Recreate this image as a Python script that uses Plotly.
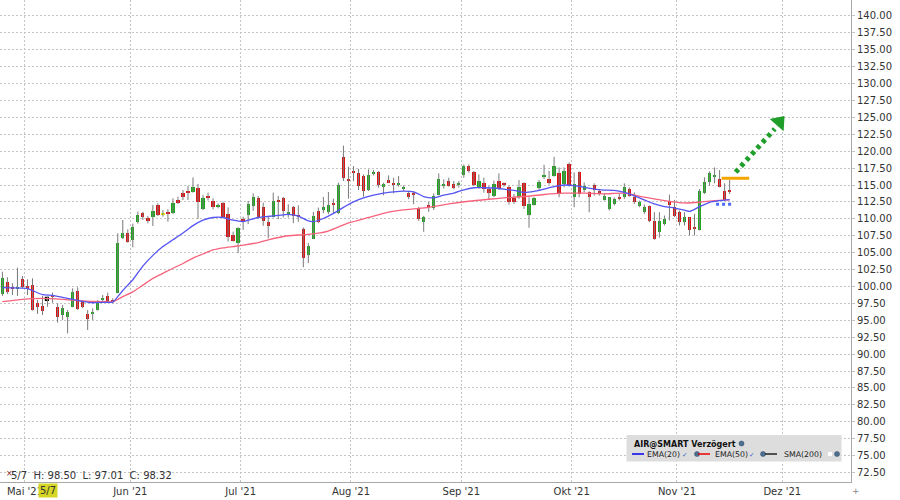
import plotly.graph_objects as go

FONT = "DejaVu Sans"

# ---------------- data (trading-day index 0 = 26 Apr 2021) ----------------
opens = [98.89, 100.72, 99.88, 99.70, 101.06, 100.12, 100.22, 97.60, 97.12, 97.85,
         98.70, 96.92, 95.79, 95.54, 97.02, 99.38, 97.91, 95.93, 95.93, 96.53,
         98.10, 98.64, 98.00, 99.09, 107.12, 107.96, 106.87, 109.58, 110.91, 110.07,
         110.32, 112.04, 110.70, 111.06, 110.81, 112.78, 113.87, 114.16, 114.00, 114.51,
         111.50, 113.37, 112.70, 111.75, 112.29, 110.71, 107.56, 106.48, 109.93, 110.54,
         111.91, 113.14, 111.77, 109.56, 110.29, 112.80, 113.04, 110.83, 111.81, 110.64,
         108.48, 104.66, 107.00, 111.18, 111.27, 111.03, 112.40, 110.93, 119.17, 115.93,
         117.06, 116.72, 116.32, 114.26, 116.57, 116.91, 114.85, 115.69, 115.34, 115.10,
         114.36, 113.87, 113.87, 111.52, 109.56, 111.91, 111.67, 113.48, 114.95, 115.59,
         115.10, 114.95, 116.42, 117.79, 116.91, 114.61, 115.25, 114.40, 113.43, 115.54,
         115.29, 114.66, 113.09, 113.19, 115.25, 110.64, 112.11, 114.56, 116.27, 115.88,
         116.37, 116.72, 115.15, 118.09, 113.28, 116.86, 114.27, 113.92, 115.05, 114.17,
         112.80, 111.47, 112.21, 113.28, 113.19, 114.41, 113.28, 111.96, 110.98, 111.96,
         109.75, 108.04, 109.27, 112.70, 111.81, 110.98, 109.51, 110.25, 108.78, 108.29,
         113.77, 115.39, 116.23, 115.88, 114.17, 114.27]
highs = [102.19, 101.36, 100.47, 102.78, 101.55, 101.06, 101.21, 98.00, 98.60, 98.50,
         99.09, 97.51, 97.27, 96.53, 99.73, 99.88, 98.00, 96.53, 96.77, 98.00,
         98.74, 99.09, 98.25, 107.86, 109.83, 108.45, 109.30, 111.06, 111.06, 110.42,
         112.04, 112.29, 111.30, 111.40, 113.03, 113.28, 114.26, 114.85, 116.13, 115.15,
         113.52, 113.87, 113.03, 112.29, 112.54, 111.70, 108.10, 108.74, 110.32, 112.65,
         113.77, 113.38, 112.40, 110.44, 113.87, 113.38, 113.24, 112.16, 111.91, 112.00,
         108.73, 106.42, 111.03, 111.67, 113.24, 113.97, 112.99, 115.34, 120.83, 117.70,
         117.80, 117.40, 116.57, 117.30, 117.21, 117.06, 115.34, 116.42, 116.08, 116.32,
         114.95, 114.12, 113.97, 111.77, 110.44, 112.50, 113.77, 116.72, 115.83, 116.08,
         115.59, 115.59, 118.04, 118.04, 117.06, 116.57, 116.08, 114.85, 115.64, 116.72,
         115.39, 114.90, 113.68, 115.74, 115.39, 113.19, 113.19, 115.74, 117.99, 117.11,
         119.17, 117.60, 117.60, 118.33, 116.86, 117.01, 115.39, 114.07, 115.25, 114.41,
         113.77, 113.19, 113.19, 113.68, 115.25, 114.66, 113.92, 112.70, 112.11, 111.96,
         110.98, 110.98, 110.49, 113.58, 112.80, 111.23, 110.98, 110.25, 110.74, 114.41,
         116.13, 117.01, 117.60, 117.21, 115.25, 115.74]
lows = [98.60, 98.89, 98.74, 98.60, 99.73, 98.74, 96.43, 95.94, 95.79, 97.01,
        97.61, 94.66, 95.05, 93.08, 96.92, 96.53, 96.77, 93.57, 95.05, 96.43,
        97.76, 97.61, 97.51, 98.99, 107.00, 106.48, 105.79, 109.30, 109.83, 109.33,
        108.94, 110.42, 110.32, 109.58, 110.71, 112.19, 112.78, 112.78, 113.87, 110.00,
        111.30, 112.70, 111.40, 111.55, 110.22, 106.63, 106.63, 104.95, 108.35, 109.22,
        111.18, 109.95, 108.97, 107.11, 110.20, 109.95, 110.20, 110.20, 109.36, 109.56,
        102.84, 103.48, 107.00, 109.36, 110.83, 110.69, 110.83, 110.69, 115.59, 112.99,
        115.59, 114.26, 113.28, 114.12, 116.42, 114.61, 113.48, 115.34, 113.77, 114.75,
        114.12, 112.90, 112.16, 109.71, 108.09, 111.03, 111.32, 113.48, 114.46, 114.75,
        114.36, 114.63, 116.08, 116.81, 114.85, 114.46, 113.87, 112.80, 113.19, 114.27,
        114.76, 112.11, 112.21, 112.94, 111.47, 108.68, 111.96, 114.17, 115.88, 115.05,
        116.23, 113.19, 114.66, 114.76, 111.72, 113.19, 113.92, 110.98, 113.43, 113.43,
        112.70, 111.23, 111.96, 112.70, 112.94, 113.28, 112.21, 111.72, 110.74, 109.51,
        106.91, 107.21, 109.02, 109.76, 110.25, 109.02, 109.02, 107.55, 107.55, 108.29,
        113.68, 114.90, 115.25, 114.66, 112.70, 113.68]
closes = [101.21, 99.24, 99.58, 99.85, 99.88, 99.58, 96.53, 97.02, 96.43, 98.32,
          98.45, 95.54, 96.77, 96.18, 99.24, 96.63, 97.02, 95.15, 96.28, 97.61,
          98.35, 97.66, 97.76, 106.38, 107.96, 106.63, 108.84, 110.57, 110.22, 109.73,
          111.21, 110.57, 110.70, 110.71, 112.29, 112.29, 113.18, 113.92, 114.75, 112.44,
          113.03, 113.03, 111.70, 112.09, 110.32, 107.37, 106.77, 108.60, 109.73, 112.16,
          113.24, 110.20, 109.71, 108.97, 112.65, 112.50, 111.18, 111.03, 110.44, 110.34,
          104.17, 106.03, 110.44, 109.56, 111.81, 112.00, 112.16, 114.95, 116.08, 115.73,
          116.81, 114.85, 114.12, 116.42, 116.91, 114.95, 115.10, 115.44, 115.10, 115.34,
          114.75, 113.24, 113.48, 109.95, 110.20, 111.77, 113.38, 115.83, 115.10, 114.85,
          114.61, 115.34, 117.79, 117.06, 114.95, 115.59, 114.36, 113.85, 115.15, 114.41,
          115.05, 112.45, 112.45, 114.66, 111.96, 112.21, 113.09, 115.39, 116.52, 115.25,
          117.84, 113.77, 117.01, 115.05, 115.15, 113.68, 114.90, 113.19, 114.27, 113.68,
          113.43, 113.19, 112.94, 112.94, 114.76, 113.43, 112.45, 112.45, 111.72, 109.75,
          107.06, 109.75, 110.00, 112.11, 110.49, 109.51, 110.34, 108.29, 108.63, 114.17,
          115.39, 116.72, 116.37, 114.66, 112.80, 113.92]

ema20_x = [0, 5, 6, 8, 10, 12, 14, 16, 18, 20, 22, 23, 24, 26, 28, 30, 32, 34, 36, 38,
           40, 42, 44, 46, 48, 49, 51, 53, 55, 57, 59, 61, 62, 64, 66, 68, 70, 72, 74, 76,
           78, 80, 82, 84, 86, 88, 90, 92, 94, 96, 98, 100, 102, 104, 106, 108, 110, 112, 114, 116,
           118, 120, 122, 124, 126, 128, 130, 132, 134, 136, 137, 139, 141, 143, 145]
ema20_y = [99.83, 99.7, 99.4, 98.8, 98.7, 98.4, 98.1, 97.8, 97.6, 97.66, 97.7, 98.5, 99.4, 101.0, 103.0, 104.6, 105.9, 106.9, 107.9, 109.0,
           109.8, 110.2, 110.2, 109.8, 109.6, 109.8, 110.2, 110.35, 110.5, 110.65, 110.4, 109.7, 109.6, 110.05, 110.8, 111.7, 112.5, 113.1, 113.5, 113.8,
           114.0, 114.1, 114.0, 113.3, 113.1, 113.5, 113.8, 114.3, 114.6, 114.6, 114.56, 114.4, 114.2, 113.9, 114.06, 114.4, 114.75, 115.0, 114.9, 114.66,
           114.4, 114.26, 114.2, 113.9, 113.4, 112.8, 112.2, 111.8, 111.6, 111.3, 111.1, 111.8, 112.45, 112.7, 112.85]
ema50_x = [0, 4, 8, 12, 16, 20, 22, 24, 26, 28, 30, 32, 34, 36, 38, 40, 42, 44, 46, 48,
           51, 53, 57, 61, 65, 69, 73, 77, 81, 85, 89, 93, 97, 100, 104, 108, 112, 116, 120, 124,
           128, 132, 136, 139, 142, 145]
ema50_y = [97.76, 98.1, 98.25, 98.1, 97.86, 97.76, 97.76, 98.5, 99.2, 100.2, 101.2, 101.95, 102.7, 103.4, 104.2, 104.8, 105.4, 105.7, 105.9, 106.1,
           106.5, 106.9, 107.5, 107.7, 108.2, 109.4, 110.2, 111.0, 111.4, 111.7, 112.2, 112.6, 112.9, 113.1, 113.3, 113.6, 113.8, 113.8, 113.7, 113.8,
           113.2, 112.7, 112.35, 112.45, 112.7, 112.8]

month_labels = ["Mai '21", "Jun '21", "Jul '21", "Aug '21", "Sep '21", "Okt '21", "Nov '21", "Dez '21"]
month_start_idx = [5, 26, 48, 70, 92, 114, 135, 156]

crosshair_idx = 9
crosshair_label = "5/7"
crosshair_text = "5/7  H: 98.50  L: 97.01  C: 98.32"

# drawing tools (chart annotations, in data units)
resistance_x = [143.4, 148.9]
resistance_y = [116.0, 116.0]
support_x = [142.3, 145.6]
support_y = [112.15, 112.15]
arrow_x = [146.2, 154.0]
arrow_y = [116.9, 123.3]
arrow_tip = (154.9, 124.3)

# ---------------- figure ----------------
GREEN = "#1ea81e"
RED = "#dd1111"
DOJI = "#e6e600"
n = len(closes)
xs = list(range(n))

wick_x, wick_y = [], []
for i in range(n):
    wick_x += [i, i, None]
    wick_y += [lows[i], highs[i], None]

body_base = [min(o, c) for o, c in zip(opens, closes)]
body_h = [max(abs(c - o), 0.16) for o, c in zip(opens, closes)]
body_col = [GREEN if c > o else (RED if c < o else DOJI) for o, c in zip(opens, closes)]
line_col = ["#000000" if i == crosshair_idx else body_col[i] for i in range(n)]
line_w = [1.2 if i == crosshair_idx else 0 for i in range(n)]

fig = go.Figure()
fig.add_trace(go.Scatter(x=wick_x, y=wick_y, mode="lines",
                         line=dict(color="#7a7a7a", width=1), hoverinfo="skip"))
fig.add_trace(go.Bar(x=xs, y=body_h, base=body_base, width=0.66,
                     marker=dict(color=body_col, line=dict(color=line_col, width=line_w))))
fig.add_trace(go.Scatter(x=ema50_x, y=ema50_y, mode="lines",
                         line=dict(color="#f7637d", width=1.3, shape="spline", smoothing=0.6)))
fig.add_trace(go.Scatter(x=ema20_x, y=ema20_y, mode="lines",
                         line=dict(color="#5555f2", width=1.3, shape="spline", smoothing=0.6)))

# drawings
fig.add_trace(go.Scatter(x=resistance_x, y=resistance_y, mode="lines",
                         line=dict(color="#f5a500", width=3)))
fig.add_trace(go.Scatter(x=support_x, y=support_y, mode="lines",
                         line=dict(color="#4a6cf5", width=3, dash="3px,3px")))
fig.add_trace(go.Scatter(x=arrow_x, y=arrow_y, mode="lines",
                         line=dict(color="#1f9f2a", width=5, dash="4px,4px")))
fig.add_trace(go.Scatter(x=[arrow_tip[0]], y=[arrow_tip[1]], mode="markers",
                         marker=dict(symbol="triangle-up", size=16, color="#1f9f2a", angle=41)))

grid = "#c4c4c4"
fig.update_layout(
    width=900, height=500,
    margin=dict(l=0, r=49, t=0, b=18),
    paper_bgcolor="white", plot_bgcolor="white",
    showlegend=False, bargap=0, hovermode=False,
    font=dict(family=FONT, size=10, color="#333333"),
    xaxis=dict(range=[-0.48, 169.2], tickmode="array",
               tickvals=[m - 0.5 for m in month_start_idx], ticktext=month_labels,
               showgrid=True, gridcolor=grid, griddash="2px,2px", gridwidth=1,
               zeroline=False, showline=True, linecolor="#a8a8a8", linewidth=1,
               ticks="", tickfont=dict(family=FONT, size=10, color="#333333")),
    yaxis=dict(range=[71.1, 142.35], side="right", tickmode="array",
               tickvals=[72.5 + 2.5 * k for k in range(28)],
               ticktext=["%.2f" % (72.5 + 2.5 * k) for k in range(28)],
               showgrid=True, gridcolor=grid, griddash="2px,2px", gridwidth=1,
               zeroline=False, showline=True, linecolor="#a8a8a8", linewidth=1,
               ticks="outside", ticklen=3, tickcolor=grid,
               tickfont=dict(family=FONT, size=10, color="#333333")),
)

W, H = 851.0, 482.0
def px(xp):
    return xp / W
def py(yp):
    return 1 - yp / H

ann = []
# crosshair readout
ann.append(dict(xref="paper", yref="paper", x=px(3.5), y=py(473), text="×", showarrow=False,
                xanchor="left", yanchor="middle", font=dict(size=8, color="#8b1a1a", family=FONT)))
ann.append(dict(xref="paper", yref="paper", x=px(9), y=py(475.5), text=crosshair_text, showarrow=False,
                xanchor="left", yanchor="middle", font=dict(size=10, color="#333333", family=FONT)))
ann.append(dict(xref="x", yref="paper", x=crosshair_idx, y=py(490.5), text=crosshair_label, showarrow=False,
                xanchor="center", yanchor="middle", bgcolor="#d6d624", borderpad=1,
                font=dict(size=10, color="#333333", family=FONT)))
ann.append(dict(xref="paper", yref="paper", x=px(856), y=py(491), text="+", showarrow=False,
                xanchor="center", yanchor="middle", font=dict(size=9, color="#888888", family=FONT)))

shapes = []
# legend box
shapes.append(dict(type="rect", xref="paper", yref="paper", x0=px(626.5), x1=px(841.5),
                   y0=py(461.5), y1=py(435), fillcolor="#dddddd", line=dict(width=0), layer="above"))
ann.append(dict(xref="paper", yref="paper", x=px(632), y=py(444), text="<b>AIR@SMART Verzögert</b>",
                showarrow=False, xanchor="left", yanchor="middle",
                font=dict(size=8, color="#111111", family=FONT)))
legend_items = [("EMA(20)", "#0000ee", 632, 645, "✓", 684, 697),
                ("EMA(50)", "#ee0000", 698, 713, "✓", 751, 763),
                ("SMA(200)", "#222222", 765, 782, "", 830, 837)]
for name, col, lx, tx, chk, cx, gx in legend_items:
    shapes.append(dict(type="line", xref="paper", yref="paper", x0=px(lx), x1=px(lx + 12),
                       y0=py(454), y1=py(454), line=dict(color=col, width=1.5), layer="above"))
    ann.append(dict(xref="paper", yref="paper", x=px(tx), y=py(454.5), text=name, showarrow=False,
                    xanchor="left", yanchor="middle", font=dict(size=7.8, color="#222222", family=FONT)))
    if chk:
        ann.append(dict(xref="paper", yref="paper", x=px(cx), y=py(454.5), text=chk, showarrow=False,
                        xanchor="center", yanchor="middle", font=dict(size=6.5, color="#2255cc", family=FONT)))
    else:
        shapes.append(dict(type="rect", xref="paper", yref="paper", x0=px(cx - 2.5), x1=px(cx + 2.5),
                           y0=py(456.5), y1=py(451.5), fillcolor="white", line=dict(color="#cccccc", width=0.5),
                           layer="above"))
    shapes.append(dict(type="circle", xref="paper", yref="paper", x0=px(gx - 2.5), x1=px(gx + 2.5),
                       y0=py(456.5), y1=py(451.5), fillcolor="#4d6f91", line=dict(color="#2e4a66", width=0.5),
                       layer="above"))
shapes.append(dict(type="circle", xref="paper", yref="paper", x0=px(741.5 - 2.5), x1=px(741.5 + 2.5),
                   y0=py(446), y1=py(441), fillcolor="#4d6f91", line=dict(color="#2e4a66", width=0.5),
                   layer="above"))

fig.update_layout(annotations=ann, shapes=shapes)
fig.write_html("out.html", config={"displayModeBar": False},
               post_script="document.body.style.margin='0px';")
